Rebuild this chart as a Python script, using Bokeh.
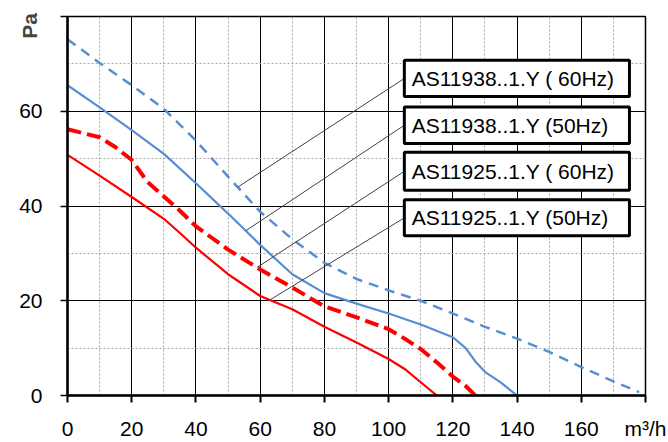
import numpy as np
from bokeh.plotting import figure
from bokeh.models import SingleIntervalTicker, Label, Range1d
from bokeh.embed import file_html
from bokeh.resources import INLINE

# ---------------- data ----------------
series_names = ["AS11938..1.Y ( 60Hz)", "AS11938..1.Y (50Hz)",
                "AS11925..1.Y ( 60Hz)", "AS11925..1.Y (50Hz)"]

b60_x = [0, 10, 20, 30, 40, 50, 60, 70, 80, 90, 100, 110, 120, 130, 140, 150, 160, 170, 178]
b60_y = [75.2, 70.2, 65.5, 60.5, 53.8, 46.2, 38.8, 33.0, 28.0, 24.6, 22.2, 20.0, 17.3, 14.5, 12.0, 9.2, 6.0, 3.0, 0.7]

b50_x = [0, 10, 20, 30, 40, 50, 60, 70, 80, 90, 100, 110, 120, 124, 127, 130, 135, 140]
b50_y = [65.5, 60.8, 56.0, 51.0, 44.8, 38.4, 31.8, 25.6, 21.6, 19.4, 17.3, 15.0, 12.3, 10.0, 7.2, 5.0, 2.7, 0.0]

r60_x = [0, 10, 15, 20, 25, 30, 35, 40, 50, 60, 70, 80, 90, 100, 105, 110, 115, 120, 124, 127]
r60_y = [56.2, 54.5, 52.4, 49.7, 45.0, 42.0, 39.0, 35.7, 30.8, 26.6, 22.8, 18.8, 16.5, 14.0, 12.0, 9.8, 7.0, 4.0, 2.0, 0.0]

r50_x = [0, 10, 20, 30, 35, 40, 50, 60, 70, 80, 90, 100, 105, 110, 115]
r50_y = [50.8, 46.4, 41.9, 37.3, 34.3, 31.2, 25.6, 21.0, 18.2, 14.5, 11.2, 7.7, 5.6, 2.8, 0.0]

x_unit = "m³/h"
y_unit = "Pa"
x_tick_labels = {0: "0", 20: "20", 40: "40", 60: "60", 80: "80", 100: "100",
                 120: "120", 140: "140", 160: "160", 180: x_unit}
y_tick_labels = {0: "0", 20: "20", 40: "40", 60: "60", 80: ""}

# ---------------- layout / style ----------------
BLUE = "#558ED5"
RED = "#FF0000"
FONT = "Liberation Sans"

box_left, box_right = 104.9, 175.0
box_tops = [70.75, 60.9, 51.35, 41.3]
box_bottoms = [63.1, 53.2, 43.3, 33.7]
leader_x = [53.0, 55.5, 59.0, 63.0]

p = figure(width=668, height=442, x_range=Range1d(0, 180), y_range=Range1d(0, 80),
           output_backend="svg", toolbar_location=None,
           min_border_left=67, min_border_right=22, min_border_top=16, min_border_bottom=45)
p.background_fill_color = "white"
p.border_fill_color = "white"
p.outline_line_color = "black"
p.outline_line_width = 1.5

xt = SingleIntervalTicker(interval=20, num_minor_ticks=2)
yt = SingleIntervalTicker(interval=20, num_minor_ticks=2)
p.xaxis.ticker = xt
p.yaxis.ticker = yt
p.xgrid.ticker = xt
p.ygrid.ticker = yt

for g in (p.xgrid, p.ygrid):
    g.grid_line_color = "black"
    g.grid_line_width = 1
    g.grid_line_alpha = 1
    g.minor_grid_line_color = "#a6a6a6"
    g.minor_grid_line_dash = "2 2"
    g.minor_grid_line_width = 1

for ax in (p.xaxis, p.yaxis):
    ax.axis_line_color = "black"
    ax.axis_line_width = 2.5
    ax.major_tick_in = 0
    ax.major_tick_out = 7
    ax.major_tick_line_color = "black"
    ax.minor_tick_line_color = None
    ax.major_label_text_font = FONT
    ax.major_label_text_font_size = "21px"
    ax.major_label_text_color = "black"

p.xaxis.major_tick_line_width = 2
p.yaxis.major_tick_line_width = 1.5
p.xaxis.major_label_overrides = x_tick_labels
p.yaxis.major_label_overrides = y_tick_labels
p.xaxis.major_label_standoff = 14
p.yaxis.major_label_standoff = 18

# curves
p.line(b60_x, b60_y, line_color=BLUE, line_width=2.5, line_dash="10 7")
p.line(b50_x, b50_y, line_color=BLUE, line_width=2.2)
p.line(r60_x, r60_y, line_color=RED, line_width=4, line_dash="14 6")
p.line(r50_x, r50_y, line_color=RED, line_width=2.2)

# leader lines
curves = [(b60_x, b60_y), (b50_x, b50_y), (r60_x, r60_y), (r50_x, r50_y)]
centers = [(t + b) / 2 for t, b in zip(box_tops, box_bottoms)]
y0s = [float(np.interp(lx, cx, cy)) for lx, (cx, cy) in zip(leader_x, curves)]
p.segment(x0=leader_x, y0=y0s, x1=[box_left] * 4, y1=centers,
          line_color="#404040", line_width=1)

# legend boxes
p.quad(left=[box_left] * 4, right=[box_right] * 4, top=box_tops, bottom=box_bottoms,
       fill_color="white", line_color="black", line_width=3)
for name, c in zip(series_names, centers):
    p.add_layout(Label(x=box_left + 2.3, y=c, text=name, text_font=FONT,
                       text_font_size="21px", text_color="black",
                       text_baseline="middle", text_align="left"))

# y unit label (kept in a side panel so that it is not clipped to the frame)
p.add_layout(Label(x=-11.7, y=78.0, text=y_unit, angle=np.pi / 2, text_font=FONT,
                   text_font_size="21px", text_font_style="bold",
                   text_align="center", text_baseline="middle"), "right")

open("out.html", "w").write(file_html(p, INLINE))
